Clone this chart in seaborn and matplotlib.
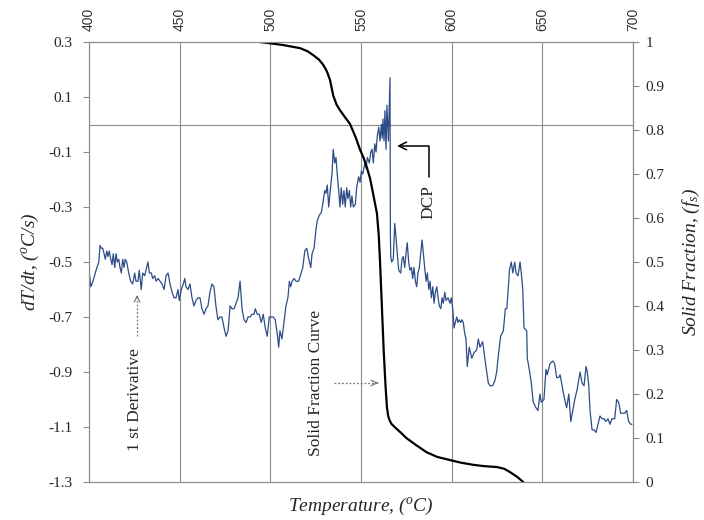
import matplotlib
matplotlib.use("Agg")
import matplotlib.pyplot as plt
import seaborn as sns
import pandas as pd

# ---------------- data ----------------
temp_deriv = [400.0, 401.0, 402.2, 403.9, 405.4, 406.1, 406.8, 407.6, 408.3, 409.0,
              409.8, 410.5, 411.2, 412.0, 412.7, 413.4, 414.2, 414.9, 415.6, 416.4,
              417.1, 417.8, 418.6, 419.3, 420.0, 420.8, 421.9, 423.0, 424.1, 425.2,
              425.9, 427.0, 427.7, 428.8, 429.6, 430.7, 431.8, 432.5, 433.3, 434.4,
              435.1, 436.2, 437.0, 438.1, 439.2, 440.3, 441.4, 442.5, 443.6, 444.7,
              445.8, 446.9, 448.0, 449.1, 449.8, 450.9, 452.0, 452.8, 453.5, 454.6,
              455.7, 456.8, 457.9, 459.0, 460.1, 461.2, 462.3, 463.4, 464.5, 465.6,
              466.7, 467.8, 468.9, 470.0, 471.1, 472.2, 473.3, 474.5, 475.6, 476.7,
              477.8, 478.9, 480.0, 481.1, 482.2, 483.3, 484.4, 485.5, 486.6, 487.7,
              488.8, 489.9, 491.0, 491.7, 492.8, 493.9, 495.0, 496.1, 497.2, 498.3,
              499.4, 500.5, 501.6, 502.7, 503.8, 504.6, 505.3, 506.4, 507.5, 508.6,
              509.7, 510.5, 511.2, 512.0, 513.1, 514.2, 515.6, 517.9, 519.0, 520.1,
              521.2, 522.3, 523.0, 524.1, 525.2, 525.9, 527.0, 528.1, 528.9, 530.0,
              530.7, 531.4, 532.2, 532.9, 534.0, 534.7, 535.5, 536.2, 536.9, 537.7,
              538.4, 539.1, 539.9, 540.6, 541.3, 542.1, 542.8, 543.6, 544.3, 545.0,
              545.8, 546.9, 547.6, 548.7, 549.5, 550.2, 551.0, 552.1, 552.8, 553.5,
              554.6, 555.4, 556.1, 556.8, 557.6, 558.3, 559.0, 559.8, 560.5, 561.2,
              561.7, 562.1, 562.7, 563.2, 563.8, 564.3, 565.1, 566.0, 566.1, 566.2,
              566.4, 566.9, 567.8, 568.6, 569.3, 570.0, 570.8, 571.9, 572.6, 573.3,
              574.1, 574.8, 575.5, 576.3, 577.0, 577.8, 578.5, 579.2, 580.0, 580.7,
              581.4, 582.2, 582.9, 583.7, 584.4, 585.1, 585.9, 586.6, 587.4, 588.1,
              588.8, 589.6, 590.3, 591.0, 591.8, 592.5, 593.2, 594.0, 594.7, 595.4,
              596.2, 596.9, 598.0, 599.1, 599.8, 600.6, 601.3, 602.0, 602.8, 603.5,
              604.2, 605.0, 605.7, 606.4, 607.2, 607.9, 608.6, 609.7, 611.1, 612.3,
              613.8, 614.7, 615.6, 617.1, 617.9, 618.9, 620.2, 621.2, 622.6, 623.9,
              624.8, 625.9, 627.0, 628.5, 629.6, 630.4, 631.5, 631.8, 632.9, 633.7,
              634.8, 635.5, 636.6, 637.7, 638.4, 639.2, 639.9, 641.4, 641.7, 642.8,
              643.9, 645.0, 646.5, 647.6, 648.7, 649.4, 650.9, 652.0, 652.7, 654.2,
              655.7, 656.8, 657.9, 659.0, 659.8, 660.9, 662.0, 663.4, 664.6, 665.7,
              666.8, 667.9, 669.3, 670.8, 671.9, 673.0, 674.1, 674.8, 675.6, 676.3,
              677.4, 678.5, 679.6, 680.7, 681.8, 682.9, 684.0, 685.1, 686.2, 687.3,
              688.4, 689.9, 691.0, 692.1, 693.2, 694.3, 695.4, 696.5, 697.6, 698.7,
              699.4]
dTdt = [-0.53, -0.59, -0.57, -0.53, -0.50, -0.44, -0.45, -0.45, -0.47, -0.49,
        -0.46, -0.48, -0.46, -0.49, -0.51, -0.47, -0.52, -0.47, -0.50, -0.49,
        -0.52, -0.54, -0.49, -0.52, -0.49, -0.50, -0.54, -0.57, -0.58, -0.54,
        -0.57, -0.57, -0.53, -0.60, -0.54, -0.55, -0.52, -0.50, -0.54, -0.54,
        -0.56, -0.55, -0.57, -0.56, -0.57, -0.58, -0.60, -0.55, -0.54, -0.58,
        -0.61, -0.63, -0.63, -0.60, -0.64, -0.60, -0.58, -0.56, -0.59, -0.60,
        -0.58, -0.63, -0.66, -0.64, -0.63, -0.63, -0.67, -0.69, -0.67, -0.66,
        -0.61, -0.58, -0.59, -0.66, -0.71, -0.70, -0.70, -0.74, -0.77, -0.75,
        -0.66, -0.67, -0.67, -0.65, -0.63, -0.57, -0.67, -0.71, -0.72, -0.70,
        -0.70, -0.69, -0.69, -0.67, -0.69, -0.69, -0.72, -0.69, -0.74, -0.77,
        -0.70, -0.70, -0.70, -0.71, -0.76, -0.81, -0.75, -0.78, -0.72, -0.66,
        -0.63, -0.57, -0.59, -0.57, -0.56, -0.57, -0.57, -0.52, -0.46, -0.45,
        -0.49, -0.52, -0.47, -0.45, -0.38, -0.35, -0.33, -0.32, -0.29, -0.24,
        -0.25, -0.22, -0.30, -0.25, -0.18, -0.09, -0.14, -0.12, -0.18, -0.24,
        -0.30, -0.23, -0.29, -0.24, -0.30, -0.23, -0.27, -0.24, -0.30, -0.26,
        -0.30, -0.29, -0.23, -0.19, -0.21, -0.17, -0.18, -0.14, -0.16, -0.12,
        -0.14, -0.10, -0.09, -0.14, -0.07, -0.10, -0.04, -0.01, -0.06, 0.00,
        -0.05, 0.02, -0.06, 0.05, -0.09, 0.07, -0.06, 0.17, -0.20, -0.40,
        -0.48, -0.50, -0.49, -0.36, -0.41, -0.47, -0.53, -0.54, -0.49, -0.48,
        -0.52, -0.47, -0.43, -0.50, -0.53, -0.52, -0.56, -0.52, -0.57, -0.59,
        -0.54, -0.52, -0.47, -0.42, -0.47, -0.52, -0.57, -0.54, -0.60, -0.57,
        -0.63, -0.59, -0.65, -0.61, -0.59, -0.63, -0.66, -0.67, -0.63, -0.65,
        -0.61, -0.64, -0.63, -0.65, -0.63, -0.67, -0.74, -0.72, -0.70, -0.72,
        -0.71, -0.72, -0.71, -0.72, -0.76, -0.78, -0.88, -0.81, -0.85, -0.83,
        -0.82, -0.78, -0.81, -0.79, -0.83, -0.88, -0.94, -0.95, -0.95, -0.93,
        -0.90, -0.83, -0.77, -0.75, -0.67, -0.67, -0.57, -0.53, -0.50, -0.54,
        -0.50, -0.54, -0.55, -0.50, -0.54, -0.60, -0.74, -0.75, -0.85, -0.89,
        -0.94, -1.01, -1.03, -1.04, -0.98, -1.01, -1.00, -0.89, -0.91, -0.87,
        -0.86, -0.87, -0.92, -0.92, -0.91, -0.95, -0.99, -1.03, -0.98, -1.08,
        -1.04, -1.00, -0.96, -0.90, -0.94, -0.95, -0.88, -0.90, -0.95, -1.04,
        -1.11, -1.11, -1.12, -1.09, -1.06, -1.07, -1.07, -1.08, -1.07, -1.09,
        -1.07, -1.07, -1.00, -1.01, -1.05, -1.05, -1.05, -1.04, -1.08, -1.09,
        -1.09]

temp_fs = [494.3, 500.0, 507.2, 516.4, 520.5, 523.7, 526.8, 529.2, 531.2, 532.9,
           534.7, 536.5, 538.4, 541.0, 543.9, 547.0, 549.5, 551.3, 553.0, 555.0,
           556.6, 558.8, 559.8, 560.5, 561.5, 562.5, 563.5, 564.3, 565.0, 565.8,
           566.8, 568.8, 572.0, 575.0, 580.0, 586.0, 592.0, 599.0, 605.0, 612.0,
           618.0, 625.0, 629.0, 632.0, 636.0, 639.5]
solid_fraction = [1.000, 0.997, 0.993, 0.986, 0.979, 0.970, 0.960, 0.948, 0.933, 0.914,
                  0.878, 0.858, 0.845, 0.830, 0.814, 0.784, 0.755, 0.738, 0.718, 0.690,
                  0.657, 0.610, 0.560, 0.500, 0.400, 0.300, 0.220, 0.170, 0.150, 0.140,
                  0.132, 0.124, 0.112, 0.100, 0.085, 0.068, 0.057, 0.050, 0.044, 0.039,
                  0.036, 0.034, 0.030, 0.023, 0.012, 0.000]

x_ticks = [400, 450, 500, 550, 600, 650, 700]
left_ticks = [0.3, 0.1, -0.1, -0.3, -0.5, -0.7, -0.9, -1.1, -1.3]
right_ticks = [0, 0.1, 0.2, 0.3, 0.4, 0.5, 0.6, 0.7, 0.8, 0.9, 1]

# ---------------- style ----------------
sns.set_style("white")
plt.rcParams['font.family'] = ['Liberation Serif', 'DejaVu Serif']
plt.rcParams['mathtext.fontset'] = 'custom'
plt.rcParams['mathtext.rm'] = 'Liberation Serif:italic'
plt.rcParams['mathtext.it'] = 'Liberation Serif:italic'

GRID = '#8c8c8c'
BLUE = '#2d4c88'

fig = plt.figure(figsize=(7.04, 5.20), dpi=100)
ax = fig.add_axes([89 / 704, 38 / 520, 544 / 704, 440 / 520])
ax2 = ax.twinx()

deriv_df = pd.DataFrame({'T': temp_deriv, 'v': dTdt})
fs_df = pd.DataFrame({'T': temp_fs, 'fs': solid_fraction})

sns.lineplot(data=deriv_df, x='T', y='v', ax=ax, color=BLUE, lw=0.9,
             estimator=None, sort=False)
sns.lineplot(data=fs_df, x='T', y='fs', ax=ax2, color='black', lw=1.6,
             estimator=None, sort=False)

ax.set_xlim(400, 700)
ax.set_ylim(-1.3, 0.3)
ax2.set_ylim(0, 1)

# top x tick labels
ax.set_xticks(x_ticks)
ax.xaxis.tick_top()
ax.set_xticklabels([str(v) for v in x_ticks], rotation=90,
                   family='Liberation Sans', fontsize=10, color='#333333')
ax.tick_params(axis='x', length=0, pad=8)
ax.xaxis.grid(True, color=GRID, lw=0.8)
ax.yaxis.grid(False)
ax.axhline(0, color=GRID, lw=0.8, zorder=1)

ax.set_yticks(left_ticks)
ax.set_yticklabels([f"{v:.1f}" for v in left_ticks], fontsize=11)
ax.tick_params(axis='y', direction='out', length=4, width=0.8, color=GRID, pad=8, left=True)

ax2.set_yticks(right_ticks)
ax2.set_yticklabels([f"{v:g}" for v in right_ticks], fontsize=11)
ax2.tick_params(axis='y', direction='out', length=4, width=0.8, color=GRID, pad=5, right=True)
ax2.grid(False)

for a in (ax, ax2):
    for s in a.spines.values():
        s.set_visible(True)
        s.set_color(GRID)
        s.set_linewidth(0.8)
ax.spines['top'].set_color('#666666')

# axis labels
ax.set_ylabel(r"$dT/dt$, ($^{o}$C/s)", fontsize=14, style='italic', labelpad=5)
ax.xaxis.set_label_position('bottom')
ax.set_xlabel(r"Temperature, ($^{o}$C)", fontsize=14, style='italic', labelpad=10)
ax2.set_ylabel(r"Solid Fraction, ($f_s$)", fontsize=14, style='italic', labelpad=12)

# annotations
ax.text(425.4, -1.0, "1 st Derivative", rotation=90, ha='center', va='center', fontsize=12.5)
ax.plot([426.5, 426.5], [-0.77, -0.63], ls=(0, (1.5, 1.5)), color='#777777', lw=0.9)
ax.annotate('', xy=(426.5, -0.62), xytext=(426.5, -0.64),
            arrowprops=dict(arrowstyle='->', color='#777777', lw=0.9, mutation_scale=10))

ax.text(525.2, -0.94, "Solid Fraction Curve", rotation=90, ha='center', va='center', fontsize=12.5)
ax.plot([535.1, 558.5], [-0.94, -0.94], ls=(0, (1.5, 1.5)), color='#777777', lw=0.9)
ax.annotate('', xy=(559.4, -0.94), xytext=(557.5, -0.94),
            arrowprops=dict(arrowstyle='->', color='#777777', lw=0.9, mutation_scale=10))

ax.text(587.0, -0.282, "DCP", rotation=90, ha='center', va='center', fontsize=12.5)
ax.annotate('', xy=(569.9, -0.078), xytext=(587.5, -0.191),
            arrowprops=dict(arrowstyle='->', color='black', lw=1.1, mutation_scale=14,
                            shrinkA=0, shrinkB=0,
                            connectionstyle='angle,angleA=90,angleB=0,rad=0'))

fig.savefig('out.png', dpi=100)
